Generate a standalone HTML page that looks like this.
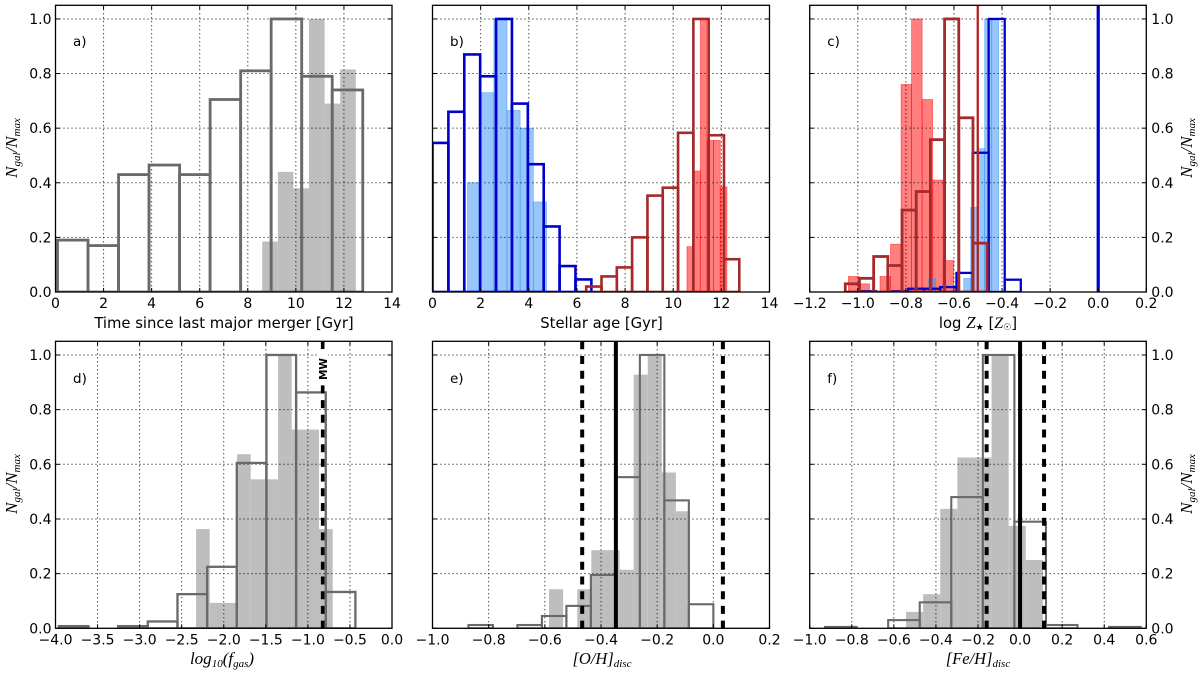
<!DOCTYPE html>
<html>
<head>
<meta charset="utf-8">
<title>Galaxy property histograms</title>
<style>
html,body{margin:0;padding:0;background:#fff;width:1200px;height:676px;overflow:hidden}
svg{display:block;position:absolute;left:0;top:0;filter:blur(0.3px)}
text{font-family:"DejaVu Sans","Liberation Sans",sans-serif;fill:#000}
.math{font-family:"Liberation Serif","DejaVu Serif",serif;font-style:italic}
</style>
</head>
<body>
<svg id="chart" width="1200" height="676" viewBox="0 0 1200 676" xmlns="http://www.w3.org/2000/svg"></svg>
<script>
// Shared y axis
const yTickValues = [0, 0.2, 0.4, 0.6, 0.8, 1.0];
const yTickLabels = ['0.0', '0.2', '0.4', '0.6', '0.8', '1.0'];

// Panel a: time since last major merger
const aXTicks = [0, 2, 4, 6, 8, 10, 12, 14];
const aXLabels = ['0', '2', '4', '6', '8', '10', '12', '14'];
const aOutlineStart = 0.083;
const aOutlineWidth = 1.27;
const aOutlineValues = [0.19, 0.17, 0.43, 0.465, 0.43, 0.705, 0.81, 1.0, 0.79, 0.74];
const aFillStart = 8.6;
const aFillWidth = 0.649;
const aFillValues = [0.185, 0.44, 0.38, 1.0, 0.69, 0.815];

// Panel b: stellar age
const bXTicks = [0, 2, 4, 6, 8, 10, 12, 14];
const bXLabels = ['0', '2', '4', '6', '8', '10', '12', '14'];
const bBlueFillStart = 1.454;
const bBlueFillWidth = 0.547;
const bBlueFillValues = [0.40, 0.73, 1.0, 0.665, 0.6, 0.33];
const bRedFillStart = 10.57;
const bRedFillWidth = 0.277;
const bRedFillValues = [0.166, 0.443, 1.0, 0.555, 0.555, 0.385];
const bBlueOutlineStart = 0;
const bBlueOutlineWidth = 0.66;
const bBlueOutlineValues = [0.546, 0.66, 0.87, 0.79, 1.0, 0.69, 0.468, 0.24, 0.095, 0.046];
const bRedOutlineStart = 6.385;
const bRedOutlineWidth = 0.636;
const bRedOutlineValues = [0.02, 0.057, 0.09, 0.2, 0.353, 0.382, 0.583, 1.0, 0.574, 0.12];

// Panel c: stellar metallicity
const cXTicks = [-1.2, -1.0, -0.8, -0.6, -0.4, -0.2, 0.0, 0.2];
const cXLabels = ['\u22121.2', '\u22121.0', '\u22120.8', '\u22120.6', '\u22120.4', '\u22120.2', '0.0', '0.2'];
const cRedFillStart = -1.039;
const cRedFillWidth = 0.0438;
const cRedFillValues = [0.057, 0.03, 0, 0.057, 0.175, 0.76, 1.0, 0.705, 0.41, 0.115];
const cBlueFillStart = -0.705;
const cBlueFillWidth = 0.0291;
const cBlueFillValues = [0.05, 0, 0, 0, 0, 0.05, 0.31, 0.525, 1.0, 1.0];
const cRedOutlineStart = -1.052;
const cRedOutlineWidth = 0.059;
const cRedOutlineValues = [0.03, 0.05, 0.13, 0.097, 0.30, 0.368, 0.558, 1.0, 0.638, 0.179];
const cBlueOutlineStart = -0.991;
const cBlueOutlineWidth = 0.0669;
const cBlueOutlineValues = [0.003, 0, 0.003, 0.012, 0.012, 0.018, 0.07, 0.51, 1.0, 0.045];
const cBlueMarker = 0.0;
const cRedMarker = -0.501;

// Panel d: gas fraction
const dXTicks = [-4, -3.5, -3, -2.5, -2, -1.5, -1, -0.5, 0];
const dXLabels = ['\u22124.0', '\u22123.5', '\u22123.0', '\u22122.5', '\u22122.0', '\u22121.5', '\u22121.0', '\u22120.5', '0.0'];
const dOutlineStart = -3.96;
const dOutlineWidth = 0.3525;
const dOutlineValues = [0.008, 0, 0.008, 0.025, 0.125, 0.225, 0.605, 1.0, 0.863, 0.133];
const dFillStart = -2.329;
const dFillWidth = 0.1624;
const dFillValues = [0.363, 0.093, 0.093, 0.637, 0.545, 0.545, 1.0, 0.727, 0.727, 0.363];
const dDashedMarkers = [-0.824];

// Panel e: [O/H] of the disc
const eXTicks = [-1.0, -0.8, -0.6, -0.4, -0.2, 0.0, 0.2];
const eXLabels = ['\u22121.0', '\u22120.8', '\u22120.6', '\u22120.4', '\u22120.2', '0.0', '0.2'];
const eOutlineStart = -0.872;
const eOutlineWidth = 0.0872;
const eOutlineValues = [0.012, 0, 0.012, 0.045, 0.082, 0.195, 0.553, 1.0, 0.468, 0.088];
const eFillStart = -0.585;
const eFillWidth = 0.0502;
const eFillValues = [0.143, 0, 0.143, 0.286, 0.286, 0.214, 0.928, 1.0, 0.57, 0.428];
const eSolidMarker = -0.347;
const eDashedMarkers = [-0.467, 0.034];

// Panel f: [Fe/H] of the disc
const fXTicks = [-1.0, -0.8, -0.6, -0.4, -0.2, 0.0, 0.2, 0.4, 0.6];
const fXLabels = ['\u22121.0', '\u22120.8', '\u22120.6', '\u22120.4', '\u22120.2', '0.0', '0.2', '0.4', '0.6'];
const fOutlineStart = -0.927;
const fOutlineWidth = 0.15;
const fOutlineValues = [0.005, 0, 0.03, 0.095, 0.48, 1.0, 0.39, 0.012, 0, 0.005];
const fFillStart = -0.542;
const fFillWidth = 0.0813;
const fFillValues = [0.06, 0.125, 0.437, 0.625, 0.625, 1.0, 0.375, 0.25];
const fSolidMarker = 0.0;
const fDashedMarkers = [-0.159, 0.114];

const SVGNS = 'http://www.w3.org/2000/svg';
const root = document.getElementById('chart');

function mk(parent, tag, name, props) {
  const el = document.createElementNS(SVGNS, tag);
  
  
  for (const k in props) el.setAttribute(k, props[k]);
  parent.appendChild(el);
  return el;
}

function makePanel(id, box, xMin, xMax) {
  const g = mk(root, 'g', 'panel-' + id, {});
  const clipId = 'clip-' + id;
  const defs = document.createElementNS(SVGNS, 'defs');
  const cp = document.createElementNS(SVGNS, 'clipPath');
  cp.setAttribute('id', clipId);
  const cr = document.createElementNS(SVGNS, 'rect');
  cr.setAttribute('x', box.l);
  cr.setAttribute('y', box.t);
  cr.setAttribute('width', box.r - box.l);
  cr.setAttribute('height', box.b - box.t);
  cp.appendChild(cr);
  defs.appendChild(cp);
  root.appendChild(defs);
  const plot = mk(g, 'g', 'plot-area-' + id, { 'clip-path': 'url(#' + clipId + ')' });
  return {
    id: id, box: box, g: g, plot: plot,
    x: function (v) { return box.l + (v - xMin) / (xMax - xMin) * (box.r - box.l); },
    y: function (v) { return box.b - v / 1.05 * (box.b - box.t); }
  };
}

function drawFill(p, name, start, width, values, fill, opacity, edge) {
  const g = mk(p.plot, 'g', name, {});
  values.forEach(function (v, i) {
    if (v <= 0) return;
    const x0 = p.x(start + i * width);
    const x1 = p.x(start + (i + 1) * width);
    mk(g, 'rect', name + '-bar', {
      x: x0, y: p.y(v), width: x1 - x0, height: p.y(0) - p.y(v),
      fill: fill, 'fill-opacity': opacity,
      stroke: edge || 'none', 'stroke-width': edge ? 0.8 : 0, 'stroke-opacity': 0.5
    });
  });
}

function drawOutline(p, name, start, width, values, color, lw) {
  const g = mk(p.plot, 'g', name, {});
  values.forEach(function (v, i) {
    const x0 = p.x(start + i * width);
    const x1 = p.x(start + (i + 1) * width);
    mk(g, 'rect', name + '-bar', {
      x: x0, y: p.y(v), width: x1 - x0, height: p.y(0) - p.y(v),
      fill: 'none', stroke: color, 'stroke-width': lw
    });
  });
}

function drawMarker(p, name, value, color, lw, dashed) {
  const props = {
    x1: p.x(value), x2: p.x(value), y1: p.box.t, y2: p.box.b,
    stroke: color, 'stroke-width': lw
  };
  if (dashed) props['stroke-dasharray'] = '8 6.7';
  mk(p.plot, 'line', name, props);
}

function drawGrid(p, xTicks) {
  const g = mk(p.plot, 'g', 'grid-' + p.id, {});
  xTicks.forEach(function (v) {
    mk(g, 'line', 'grid-line-x', {
      x1: p.x(v), x2: p.x(v), y1: p.box.t, y2: p.box.b,
      stroke: '#000', 'stroke-width': 1, 'stroke-dasharray': '1 3'
    });
  });
  yTickValues.forEach(function (v) {
    mk(g, 'line', 'grid-line-y', {
      x1: p.box.l, x2: p.box.r, y1: p.y(v), y2: p.y(v),
      stroke: '#000', 'stroke-width': 1, 'stroke-dasharray': '1 3'
    });
  });
}

function drawFrame(p, xTicks, xLabels, ySide, tag, tagY) {
  const b = p.box;
  const g = mk(p.g, 'g', 'axes-' + p.id, {});
  xTicks.forEach(function (v, i) {
    mk(g, 'line', 'x-tick', { x1: p.x(v), x2: p.x(v), y1: b.b, y2: b.b - 4, stroke: '#000', 'stroke-width': 1 });
    mk(g, 'line', 'x-tick-top', { x1: p.x(v), x2: p.x(v), y1: b.t, y2: b.t + 4, stroke: '#000', 'stroke-width': 1 });
    const t = mk(g, 'text', 'x-tick-label', { x: p.x(v), y: b.b + 16, 'text-anchor': 'middle', 'font-size': 14 });
    t.textContent = xLabels[i];
  });
  yTickValues.forEach(function (v, i) {
    mk(g, 'line', 'y-tick', { x1: b.l, x2: b.l + 4, y1: p.y(v), y2: p.y(v), stroke: '#000', 'stroke-width': 1 });
    mk(g, 'line', 'y-tick-right', { x1: b.r, x2: b.r - 4, y1: p.y(v), y2: p.y(v), stroke: '#000', 'stroke-width': 1 });
    if (ySide === 'left') {
      const t = mk(g, 'text', 'y-tick-label', { x: b.l - 4, y: p.y(v) + 5, 'text-anchor': 'end', 'font-size': 14 });
      t.textContent = yTickLabels[i];
    } else if (ySide === 'right') {
      const t = mk(g, 'text', 'y-tick-label', { x: b.r + 5, y: p.y(v) + 5, 'text-anchor': 'start', 'font-size': 14 });
      t.textContent = yTickLabels[i];
    }
  });
  mk(g, 'rect', 'axes-frame', { x: b.l, y: b.t, width: b.r - b.l, height: b.b - b.t, fill: 'none', stroke: '#000', 'stroke-width': 1.3 });
  const lab = mk(g, 'text', 'panel-label', { x: b.l + 17.5, y: tagY, 'font-size': 13.5 });
  lab.textContent = tag;
}

function sub(parent, str, size, dy, upright) {
  const s = document.createElementNS(SVGNS, 'tspan');
  s.setAttribute('font-size', size);
  s.setAttribute('dy', dy);
  if (upright) {
    s.setAttribute('font-style', 'normal');
    s.setAttribute('font-family', '"DejaVu Sans", sans-serif');
  }
  s.textContent = str;
  parent.appendChild(s);
}

function yTitle(p, cx, cy, name, first) {
  const t = mk(p.g, 'text', name, {
    class: 'math', 'text-anchor': 'middle',
    transform: 'translate(' + cx + ',' + cy + ') rotate(-90)'
  });
  sub(t, 'N', 17, 0);
  sub(t, first, 11, 3);
  sub(t, '/N', 17, -3);
  sub(t, 'max', 11, 3);
}

function xTitle(p, text, cx, cy, name) {
  const t = mk(p.g, 'text', name, { x: cx, y: cy, 'text-anchor': 'middle', 'font-size': 14.8 });
  t.textContent = text;
}

function mathTitle(p, cx, cy, name, parts) {
  const t = mk(p.g, 'text', name, { x: cx, y: cy, 'text-anchor': 'middle', class: 'math' });
  parts.forEach(function (q) { sub(t, q[0], q[1], q[2], q[3]); });
}

const GREY_FILL = '#bebebe';
const GREY_LINE = '#696969';
const BLUE_FILL = '#2f8ff5';
const BLUE_LINE = '#0000cd';
const RED_FILL = '#ff0000';
const RED_LINE = '#a52a2a';

const boxTopA = { l: 55.5, r: 392, t: 5.3, b: 292 };
const boxTopB = { l: 432.5, r: 769.5, t: 5.3, b: 292 };
const boxTopC = { l: 809.7, r: 1146.3, t: 5.3, b: 292 };
const boxBotD = { l: 55.5, r: 392, t: 341.3, b: 628.3 };
const boxBotE = { l: 432.5, r: 769.5, t: 341.3, b: 628.3 };
const boxBotF = { l: 809.7, r: 1146.3, t: 341.3, b: 628.3 };

// a
const pa = makePanel('a', boxTopA, 0, 14);
drawFill(pa, 'merger-time-fill', aFillStart, aFillWidth, aFillValues, GREY_FILL, 1);
drawGrid(pa, aXTicks);
drawOutline(pa, 'merger-time-outline', aOutlineStart, aOutlineWidth, aOutlineValues, GREY_LINE, 2.8);
drawFrame(pa, aXTicks, aXLabels, 'left', 'a)', 46);
xTitle(pa, 'Time since last major merger [Gyr]', 224, 328, 'x-axis-title-a');
yTitle(pa, 17, 148, 'y-axis-title-a', 'gal');

// b
const pb = makePanel('b', boxTopB, 0, 14);
drawFill(pb, 'age-blue-fill', bBlueFillStart, bBlueFillWidth, bBlueFillValues, BLUE_FILL, 0.5, BLUE_FILL);
drawFill(pb, 'age-red-fill', bRedFillStart, bRedFillWidth, bRedFillValues, RED_FILL, 0.5, RED_FILL);
drawGrid(pb, bXTicks);
drawOutline(pb, 'age-blue-outline', bBlueOutlineStart, bBlueOutlineWidth, bBlueOutlineValues, BLUE_LINE, 2.6);
drawOutline(pb, 'age-red-outline', bRedOutlineStart, bRedOutlineWidth, bRedOutlineValues, RED_LINE, 2.6);
drawFrame(pb, bXTicks, bXLabels, 'none', 'b)', 46);
xTitle(pb, 'Stellar age [Gyr]', 601.5, 328, 'x-axis-title-b');

// c
const pc = makePanel('c', boxTopC, -1.2, 0.2);
drawFill(pc, 'metallicity-red-fill', cRedFillStart, cRedFillWidth, cRedFillValues, RED_FILL, 0.5, RED_FILL);
drawFill(pc, 'metallicity-blue-fill', cBlueFillStart, cBlueFillWidth, cBlueFillValues, BLUE_FILL, 0.5, BLUE_FILL);
drawGrid(pc, cXTicks);
drawOutline(pc, 'metallicity-blue-outline', cBlueOutlineStart, cBlueOutlineWidth, cBlueOutlineValues, BLUE_LINE, 2.3);
drawOutline(pc, 'metallicity-red-outline', cRedOutlineStart, cRedOutlineWidth, cRedOutlineValues, RED_LINE, 2.8);
drawMarker(pc, 'solar-metallicity-line', cBlueMarker, '#0000cd', 3.2, false);
drawMarker(pc, 'red-population-line', cRedMarker, '#b22222', 2.3, false);
drawFrame(pc, cXTicks, cXLabels, 'right', 'c)', 46);
mathTitle(pc, 978, 328, 'x-axis-title-c', [['log ', 14.8, 0, true], ['Z', 17, 0], ['\u2605', 9, 2, true], [' [', 15, -2, true], ['Z', 16, 0], ['\u2609', 9, 2, true], [']', 15, -2, true]]);
yTitle(pc, 1192, 148, 'y-axis-title-c', 'gal');

// d
const pd = makePanel('d', boxBotD, -4, 0);
drawFill(pd, 'gas-fraction-fill', dFillStart, dFillWidth, dFillValues, GREY_FILL, 1);
drawGrid(pd, dXTicks);
drawOutline(pd, 'gas-fraction-outline', dOutlineStart, dOutlineWidth, dOutlineValues, GREY_LINE, 2.3);
dDashedMarkers.forEach(function (v) {
  drawMarker(pd, 'milky-way-line', v, '#000', 3.6, true);
});
drawFrame(pd, dXTicks, dXLabels, 'left', 'd)', 383);
mk(pd.g, 'rect', 'milky-way-label-background', { x: 317, y: 349, width: 11, height: 36, fill: '#fff' });
const mw = mk(pd.g, 'text', 'milky-way-label', {
  'font-size': 10.5, 'font-weight': 'bold', 'text-anchor': 'middle',
  transform: 'translate(327,369) rotate(-90)'
});
mw.textContent = 'MW';
mathTitle(pd, 222, 664, 'x-axis-title-d', [['log', 17, 0], ['10', 11, 3], ['(f', 17, -3], ['gas', 11, 3], [')', 17, -3]]);
yTitle(pd, 17, 484, 'y-axis-title-d', 'gal');

// e
const pe = makePanel('e', boxBotE, -1, 0.2);
drawFill(pe, 'oxygen-fill', eFillStart, eFillWidth, eFillValues, GREY_FILL, 1);
drawGrid(pe, eXTicks);
drawOutline(pe, 'oxygen-outline', eOutlineStart, eOutlineWidth, eOutlineValues, GREY_LINE, 2.1);
drawMarker(pe, 'oxygen-solid-line', eSolidMarker, '#000', 4, false);
eDashedMarkers.forEach(function (v) {
  drawMarker(pe, 'oxygen-dashed-line', v, '#000', 4, true);
});
drawFrame(pe, eXTicks, eXLabels, 'none', 'e)', 383);
mathTitle(pe, 602, 664, 'x-axis-title-e', [['[O/H]', 16.5, 0], ['disc', 11, 3]]);

// f
const pf = makePanel('f', boxBotF, -1, 0.6);
drawFill(pf, 'iron-fill', fFillStart, fFillWidth, fFillValues, GREY_FILL, 1);
drawGrid(pf, fXTicks);
drawOutline(pf, 'iron-outline', fOutlineStart, fOutlineWidth, fOutlineValues, GREY_LINE, 2.1);
drawMarker(pf, 'iron-solid-line', fSolidMarker, '#000', 4, false);
fDashedMarkers.forEach(function (v) {
  drawMarker(pf, 'iron-dashed-line', v, '#000', 4, true);
});
drawFrame(pf, fXTicks, fXLabels, 'right', 'f)', 383);
mathTitle(pf, 978, 664, 'x-axis-title-f', [['[Fe/H]', 16.5, 0], ['disc', 11, 3]]);
yTitle(pf, 1192, 484, 'y-axis-title-f', 'gal');
</script>
</body>
</html>
